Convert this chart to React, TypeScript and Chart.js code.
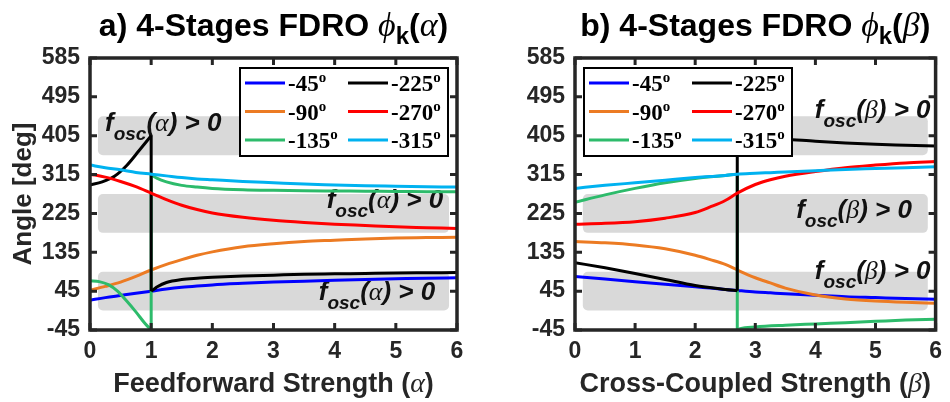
import React, { useEffect, useRef } from "react";
import { Chart, registerables } from "chart.js";
Chart.register(...registerables);

const SANS = "'Liberation Sans', Arial, Helvetica, sans-serif";
const SERIF = "'Liberation Serif', 'Times New Roman', serif";
const INK = "#262626";
const BAND_FILL = "#d9d9d9";

// ---------- shared ----------
const SERIES_LABELS = ["-45º", "-90º", "-135º", "-225º", "-270º", "-315º"];
const SERIES_COLORS = ["#0000ff", "#ec7b23", "#2dbb6b", "#000000", "#ff0000", "#00b2f0"];
const X_TICKS = [0, 1, 2, 3, 4, 5, 6];
const Y_TICKS = [-45, 45, 135, 225, 315, 405, 495, 585];
const BAND_LOW = [0, 180, 360];
const BAND_HIGH = [90, 270, 450];
const BAND_X = [0.13, 5.87];

// ---------- panel a (alpha) ----------
const A_X = [0, 0.25, 0.5, 0.75, 1, 1.25, 1.5, 1.75, 2, 2.5, 3, 3.5, 4, 4.5, 5, 5.5, 6];
const A_BLUE = [24, 30, 35, 40, 45, 50, 54, 57, 59.5, 63, 66, 68, 70, 72, 73.5, 75, 76];
const A_ORANGE = [47, 56, 66, 79, 94, 107, 118, 128, 136, 148, 155, 160, 163, 166, 168, 169, 170];
const A_RED = [316, 309, 299, 287, 272, 257, 244, 234, 226, 216, 209, 204, 200, 197, 194, 192, 190];
const A_CYAN = [337, 331, 326, 320, 316, 312, 308, 305, 303, 299, 296, 293, 291, 289, 288, 287, 286];
const A_GREEN_PRE_X = [0, 0.15, 0.3, 0.45, 0.6, 0.75, 0.9, 1];
const A_GREEN_PRE = [69, 67, 60, 45, 22, -3, -30, -45];
const A_GREEN_POST_X = [1, 1.1, 1.25, 1.5, 1.75, 2, 2.5, 3, 3.5, 4, 4.5, 5, 5.5, 6];
const A_GREEN_POST = [315, 306, 298, 290, 286, 283, 280, 278.5, 277.5, 277, 276.5, 276, 275.5, 275];
const A_BLACK_PRE_X = [0, 0.2, 0.4, 0.6, 0.8, 1];
const A_BLACK_PRE = [291, 298, 311, 336, 370, 405];
const A_BLACK_POST_X = [1, 1.05, 1.1, 1.25, 1.5, 1.75, 2, 2.5, 3, 3.5, 4, 4.5, 5, 5.5, 6];
const A_BLACK_POST = [45, 50, 55, 65, 72, 75, 77, 80, 82, 84, 85, 86, 87, 87.5, 88];
const A_NOTE_X = [0.245, 3.87, 3.74];
const A_NOTE_Y = [416, 238, 24.5];

// ---------- panel b (beta) ----------
const B_X = [0, 0.5, 1, 1.5, 2, 2.25, 2.5, 2.7, 3, 3.25, 3.5, 4, 4.5, 5, 5.5, 6];
const B_BLUE = [79, 73, 67, 61, 55, 52, 49, 46.5, 43, 41, 39, 35.5, 32, 30, 28, 26.5];
const B_ORANGE = [160, 157, 152, 143, 128, 118, 107, 94, 76, 64, 52, 36, 27, 22, 19, 17];
const B_RED = [200, 202, 206, 214, 227, 240, 255, 272, 292, 303, 311, 322, 331, 337, 342, 345];
const B_CYAN = [283, 290, 296, 302, 308, 310.5, 313, 316, 318, 319.5, 321, 324, 327, 329, 331, 333];
const B_GREEN_PRE_X = [0, 0.5, 1, 1.5, 2, 2.5, 2.7];
const B_GREEN_PRE = [251, 268, 283, 296, 306, 313, 316];
const B_GREEN_POST_X = [2.7, 2.75, 3, 3.5, 4, 4.5, 5, 5.5, 6];
const B_GREEN_POST = [-45, -42, -38, -34, -31, -28, -25, -22, -20];
const B_BLACK_PRE_X = [0, 0.5, 1, 1.5, 2, 2.5, 2.7];
const B_BLACK_PRE = [111, 99, 86, 72, 58, 49, 46];
const B_BLACK_POST_X = [2.7, 3, 3.5, 4, 4.5, 5, 5.5, 6];
const B_BLACK_POST = [404, 400, 397, 392, 388, 385, 383, 381];
const B_NOTE_X = [3.99, 3.68, 3.99];
const B_NOTE_Y = [445, 214, 72.5];

type Run = { t: string; font: string; dy?: number };

function drawRuns(ctx: CanvasRenderingContext2D, runs: Run[], x: number, y: number, align: string) {
  let w = 0;
  for (const r of runs) {
    ctx.font = r.font;
    w += ctx.measureText(r.t).width;
  }
  let cx = align === "center" ? x - w / 2 : x;
  ctx.textAlign = "left";
  ctx.textBaseline = "alphabetic";
  for (const r of runs) {
    ctx.font = r.font;
    ctx.fillText(r.t, cx, y + (r.dy || 0));
    cx += ctx.measureText(r.t).width;
  }
}

function titleRuns(prefix: string, greek: string): Run[] {
  return [
    { t: prefix + " 4-Stages FDRO ", font: `bold 32px ${SANS}` },
    { t: "ϕ", font: `italic 34px ${SERIF}` },
    { t: "k", font: `bold 24px ${SANS}`, dy: 8 },
    { t: "(", font: `bold 32px ${SANS}` },
    { t: greek, font: `italic 34px ${SERIF}` },
    { t: ")", font: `bold 32px ${SANS}` },
  ];
}

function noteRuns(greek: string): Run[] {
  return [
    { t: "f", font: `italic bold 26px ${SANS}` },
    { t: "osc", font: `italic bold 19px ${SANS}`, dy: 9 },
    { t: "(", font: `italic bold 26px ${SANS}` },
    { t: greek, font: `italic 26px ${SERIF}` },
    { t: ")", font: `italic bold 26px ${SANS}` },
    { t: " > 0", font: `italic bold 26px ${SANS}` },
  ];
}

type Seg = { x: number[]; y: number[] };
type Panel = {
  prefix: string;
  greek: string;
  xTitle: string;
  yTitle: string | null;
  yWidth: number;
  rightPad: number;
  legendRight: boolean;
  series: Seg[][];
  noteX: number[];
  noteY: number[];
};

const PANEL_A: Panel = {
  prefix: "a)",
  greek: "α",
  xTitle: "Feedforward Strength (",
  yTitle: "Angle [deg]",
  yWidth: 90,
  rightPad: 18,
  legendRight: true,
  series: [
    [{ x: A_X, y: A_BLUE }],
    [{ x: A_X, y: A_ORANGE }],
    [{ x: A_GREEN_PRE_X, y: A_GREEN_PRE }, { x: A_GREEN_POST_X, y: A_GREEN_POST }],
    [{ x: A_BLACK_PRE_X, y: A_BLACK_PRE }, { x: A_BLACK_POST_X, y: A_BLACK_POST }],
    [{ x: A_X, y: A_RED }],
    [{ x: A_X, y: A_CYAN }],
  ],
  noteX: A_NOTE_X,
  noteY: A_NOTE_Y,
};

const PANEL_B: Panel = {
  prefix: "b)",
  greek: "β",
  xTitle: "Cross-Coupled Strength (",
  yTitle: null,
  yWidth: 100,
  rightPad: 8,
  legendRight: false,
  series: [
    [{ x: B_X, y: B_BLUE }],
    [{ x: B_X, y: B_ORANGE }],
    [{ x: B_GREEN_PRE_X, y: B_GREEN_PRE }, { x: B_GREEN_POST_X, y: B_GREEN_POST }],
    [{ x: B_BLACK_PRE_X, y: B_BLACK_PRE }, { x: B_BLACK_POST_X, y: B_BLACK_POST }],
    [{ x: B_X, y: B_RED }],
    [{ x: B_X, y: B_CYAN }],
  ],
  noteX: B_NOTE_X,
  noteY: B_NOTE_Y,
};

function makeConfig(p: Panel): any {
  const datasets: any[] = [];
  const lineDs = (pts: any[], i: number, mono: boolean) => ({
    label: SERIES_LABELS[i],
    data: pts,
    borderColor: SERIES_COLORS[i],
    backgroundColor: SERIES_COLORS[i],
    borderWidth: 3,
    pointRadius: 0,
    fill: false,
    tension: 0,
    cubicInterpolationMode: mono ? "monotone" : "default",
    order: -i,
  });
  p.series.forEach((segs, i) => {
    segs.forEach((seg, j) => {
      datasets.push(lineDs(seg.x.map((x, k) => ({ x, y: seg.y[k] })), i, true));
      if (j < segs.length - 1) {
        const n = segs[j + 1];
        const last = seg.x.length - 1;
        datasets.push(
          lineDs(
            [
              { x: seg.x[last], y: seg.y[last] },
              { x: n.x[0], y: n.y[0] },
            ],
            i,
            false
          )
        );
      }
    });
  });

  const tickFont = { family: SANS, size: 23, weight: "bold" as const };

  const decor = {
    id: "decor",
    beforeDatasetsDraw(chart: any) {
      const ctx = chart.ctx as CanvasRenderingContext2D;
      const xs = chart.scales.x;
      const ys = chart.scales.y;
      ctx.save();
      ctx.fillStyle = BAND_FILL;
      for (let b = 0; b < BAND_LOW.length; b++) {
        const x0 = xs.getPixelForValue(BAND_X[0]);
        const x1 = xs.getPixelForValue(BAND_X[1]);
        const y0 = ys.getPixelForValue(BAND_HIGH[b]);
        const y1 = ys.getPixelForValue(BAND_LOW[b]);
        ctx.beginPath();
        (ctx as any).roundRect(x0, y0, x1 - x0, y1 - y0, 5);
        ctx.fill();
      }
      ctx.fillStyle = "#111111";
      for (let k = 0; k < p.noteX.length; k++) {
        drawRuns(ctx, noteRuns(p.greek), xs.getPixelForValue(p.noteX[k]), ys.getPixelForValue(p.noteY[k]), "left");
      }
      ctx.restore();
    },
    afterDraw(chart: any) {
      const ctx = chart.ctx as CanvasRenderingContext2D;
      const ca = chart.chartArea;
      const xs = chart.scales.x;
      const ys = chart.scales.y;
      ctx.save();
      // frame
      ctx.strokeStyle = INK;
      ctx.lineWidth = 3.5;
      ctx.strokeRect(ca.left, ca.top, ca.right - ca.left, ca.bottom - ca.top);
      ctx.lineWidth = 3;
      ctx.beginPath();
      for (const v of X_TICKS) {
        const px = xs.getPixelForValue(v);
        ctx.moveTo(px, ca.bottom);
        ctx.lineTo(px, ca.bottom - 7);
        ctx.moveTo(px, ca.top);
        ctx.lineTo(px, ca.top + 7);
      }
      for (const v of Y_TICKS) {
        const py = ys.getPixelForValue(v);
        ctx.moveTo(ca.left, py);
        ctx.lineTo(ca.left + 7, py);
        ctx.moveTo(ca.right, py);
        ctx.lineTo(ca.right - 7, py);
      }
      ctx.stroke();

      // legend
      const LW = 208;
      const LH = 88;
      const lx = p.legendRight ? ca.right - 9 - LW : ca.left + 9;
      const ly = ca.top + 10;
      ctx.fillStyle = "#ffffff";
      ctx.fillRect(lx, ly, LW, LH);
      ctx.strokeStyle = "#000000";
      ctx.lineWidth = 2;
      ctx.strokeRect(lx, ly, LW, LH);
      for (let i = 0; i < SERIES_LABELS.length; i++) {
        const col = Math.floor(i / 3);
        const row = i % 3;
        const cy = ly + 15 + row * 28.5;
        const x0 = lx + (col === 0 ? 5 : 108);
        ctx.strokeStyle = SERIES_COLORS[i];
        ctx.lineWidth = 3;
        ctx.beginPath();
        ctx.moveTo(x0, cy);
        ctx.lineTo(x0 + 40, cy);
        ctx.stroke();
        const lab = SERIES_LABELS[i];
        const main = lab.replace("º", "");
        ctx.fillStyle = "#000000";
        drawRuns(
          ctx,
          [
            { t: main, font: `bold 23px ${SERIF}` },
            { t: "o", font: `bold 15px ${SERIF}`, dy: -9 },
          ],
          x0 + 43,
          cy + 8,
          "left"
        );
      }

      // titles
      ctx.fillStyle = "#000000";
      const cxm = (ca.left + ca.right) / 2;
      drawRuns(ctx, titleRuns(p.prefix, p.greek), cxm, 36, "center");
      ctx.fillStyle = INK;
      drawRuns(
        ctx,
        [
          { t: p.xTitle, font: `bold 27px ${SANS}` },
          { t: p.greek, font: `italic 28px ${SERIF}` },
          { t: ")", font: `bold 27px ${SANS}` },
        ],
        cxm,
        392,
        "center"
      );
      ctx.restore();
    },
  };

  return {
    type: "line",
    data: { datasets },
    options: {
      animation: false,
      responsive: false,
      devicePixelRatio: 1,
      layout: { padding: { left: 0, right: p.rightPad, top: 58, bottom: 0 } },
      plugins: { legend: { display: false }, title: { display: false }, tooltip: { enabled: false } },
      scales: {
        x: {
          type: "linear",
          min: 0,
          max: 6,
          afterBuildTicks: (s: any) => {
            s.ticks = X_TICKS.map((v) => ({ value: v }));
          },
          afterFit: (s: any) => {
            s.height = 72;
          },
          ticks: { font: tickFont, color: INK, padding: 8, maxRotation: 0, autoSkip: false },
          grid: { display: false, drawTicks: false },
          border: { display: false },
        },
        y: {
          type: "linear",
          min: -45,
          max: 585,
          afterBuildTicks: (s: any) => {
            s.ticks = Y_TICKS.map((v) => ({ value: v }));
          },
          afterFit: (s: any) => {
            s.width = p.yWidth;
          },
          ticks: { font: tickFont, color: INK, padding: 10, autoSkip: false },
          grid: { display: false, drawTicks: false },
          border: { display: false },
          title: {
            display: !!p.yTitle,
            text: p.yTitle || "",
            color: INK,
            font: { family: SANS, size: 26, weight: "bold" },
            padding: { top: 8, bottom: 0 },
          },
        },
      },
    },
    plugins: [decor],
  };
}

function PanelChart({ panel, left }: { panel: Panel; left: number }) {
  const ref = useRef<HTMLCanvasElement>(null);
  useEffect(() => {
    const chart = new Chart(ref.current as HTMLCanvasElement, makeConfig(panel));
    return () => chart.destroy();
  }, [panel]);
  return (
    <canvas
      ref={ref}
      width={475}
      height={402}
      style={{ position: "absolute", left, top: 0, width: 475, height: 402 }}
    />
  );
}

export default function App() {
  return (
    <div style={{ position: "absolute", left: 0, top: 0, width: 950, height: 402, background: "#ffffff" }}>
      <PanelChart panel={PANEL_A} left={0} />
      <PanelChart panel={PANEL_B} left={475} />
    </div>
  );
}
